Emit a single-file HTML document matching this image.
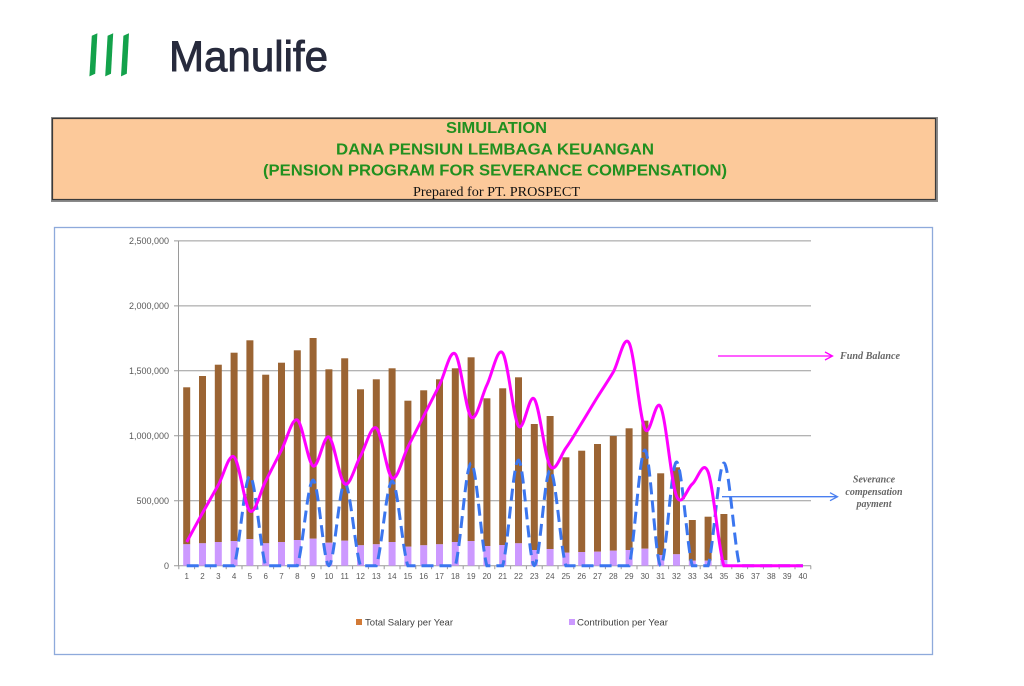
<!DOCTYPE html>
<html>
<head>
<meta charset="utf-8">
<style>
html,body{margin:0;padding:0;background:#fff;}
body{width:1024px;height:686px;overflow:hidden;}
svg{display:block;}
.yl{font-family:"Liberation Sans",Arial,sans-serif;font-size:9px;fill:#595959;text-anchor:end;}
.xl{font-family:"Liberation Sans",Arial,sans-serif;font-size:8px;fill:#595959;text-anchor:middle;}
.lg{font-family:"Liberation Sans",Arial,sans-serif;font-size:9px;fill:#404040;}
.an{font-family:"Liberation Serif","Times New Roman",serif;font-size:10px;font-style:italic;font-weight:bold;fill:#666;text-anchor:middle;}
.gt{font-family:"Liberation Sans",Arial,sans-serif;font-size:16px;font-weight:bold;fill:#21901f;}
</style>
</head>
<body>
<svg id="s" width="1024" height="686" viewBox="0 0 1024 686" xmlns="http://www.w3.org/2000/svg">
  <rect x="0" y="0" width="1024" height="686" fill="#fff"/>
  <!-- Logo -->
  <g fill="#13a24b">
    <polygon points="91.8,35.8 97.4,33.2 95.2,73.8 89.4,76.4"/>
    <polygon points="107.6,35.8 113.2,33.2 111,73.8 105.2,76.4"/>
    <polygon points="123.4,35.8 129,33.2 126.8,73.8 121,76.4"/>
  </g>
  <text x="169" y="71" font-family="Liberation Sans, Arial, sans-serif" font-size="43" fill="#272a3c" stroke="#272a3c" stroke-width="0.9" textLength="159" lengthAdjust="spacingAndGlyphs">Manulife</text>

  <!-- Header box -->
  <rect x="51" y="117" width="887" height="85" fill="#8a8a8a"/>
  <rect x="52.5" y="118.5" width="883" height="81" fill="#fcc99a" stroke="#3a3a3a" stroke-width="1.2"/>
  <text class="gt" x="446" y="133" textLength="101" lengthAdjust="spacingAndGlyphs">SIMULATION</text>
  <text class="gt" x="336" y="154.5" textLength="318" lengthAdjust="spacingAndGlyphs">DANA PENSIUN LEMBAGA KEUANGAN</text>
  <text class="gt" x="263" y="175.5" textLength="464" lengthAdjust="spacingAndGlyphs">(PENSION PROGRAM FOR SEVERANCE COMPENSATION)</text>
  <text x="413" y="196" font-family="Liberation Serif, Times New Roman, serif" font-size="13.5" fill="#111" textLength="167" lengthAdjust="spacingAndGlyphs">Prepared for PT. PROSPECT</text>

  <!-- Chart box -->
  <rect x="54.5" y="227.5" width="878" height="427" fill="#fff" stroke="#8eaadb" stroke-width="1.3"/>

  <!-- Gridlines -->
  <g stroke="#9a9a9a" stroke-width="1">
    <line x1="174" y1="240.9" x2="811" y2="240.9"/>
    <line x1="174" y1="305.9" x2="811" y2="305.9"/>
    <line x1="174" y1="370.8" x2="811" y2="370.8"/>
    <line x1="174" y1="435.8" x2="811" y2="435.8"/>
    <line x1="174" y1="500.7" x2="811" y2="500.7"/>
    <line x1="174" y1="565.7" x2="811" y2="565.7"/>
    <line x1="178.5" y1="240.9" x2="178.5" y2="565.7"/>
  </g>
  <g id="xt" stroke="#9a9a9a" stroke-width="1"></g>

  <!-- Y labels -->
  <text class="yl" x="169" y="244">2,500,000</text>
  <text class="yl" x="169" y="309">2,000,000</text>
  <text class="yl" x="169" y="374">1,500,000</text>
  <text class="yl" x="169" y="439">1,000,000</text>
  <text class="yl" x="169" y="504">500,000</text>
  <text class="yl" x="169" y="569">0</text>

  <g id="bars"></g>
  <path id="sev" d="" fill="none" stroke="#3b76ef" stroke-width="3" stroke-dasharray="12 6"/>
  <path id="fund" d="" fill="none" stroke="#ff00ff" stroke-width="3"/>

  <!-- X labels -->
  <g>
    <text class="xl" x="186.7" y="579">1</text>
    <text class="xl" x="202.5" y="579">2</text>
    <text class="xl" x="218.3" y="579">3</text>
    <text class="xl" x="234.1" y="579">4</text>
    <text class="xl" x="249.9" y="579">5</text>
    <text class="xl" x="265.7" y="579">6</text>
    <text class="xl" x="281.5" y="579">7</text>
    <text class="xl" x="297.3" y="579">8</text>
    <text class="xl" x="313.1" y="579">9</text>
    <text class="xl" x="328.9" y="579">10</text>
    <text class="xl" x="344.7" y="579">11</text>
    <text class="xl" x="360.5" y="579">12</text>
    <text class="xl" x="376.3" y="579">13</text>
    <text class="xl" x="392.1" y="579">14</text>
    <text class="xl" x="407.9" y="579">15</text>
    <text class="xl" x="423.7" y="579">16</text>
    <text class="xl" x="439.5" y="579">17</text>
    <text class="xl" x="455.3" y="579">18</text>
    <text class="xl" x="471.1" y="579">19</text>
    <text class="xl" x="486.9" y="579">20</text>
    <text class="xl" x="502.7" y="579">21</text>
    <text class="xl" x="518.5" y="579">22</text>
    <text class="xl" x="534.3" y="579">23</text>
    <text class="xl" x="550.1" y="579">24</text>
    <text class="xl" x="565.9" y="579">25</text>
    <text class="xl" x="581.7" y="579">26</text>
    <text class="xl" x="597.5" y="579">27</text>
    <text class="xl" x="613.3" y="579">28</text>
    <text class="xl" x="629.1" y="579">29</text>
    <text class="xl" x="644.9" y="579">30</text>
    <text class="xl" x="660.7" y="579">31</text>
    <text class="xl" x="676.5" y="579">32</text>
    <text class="xl" x="692.3" y="579">33</text>
    <text class="xl" x="708.1" y="579">34</text>
    <text class="xl" x="723.9" y="579">35</text>
    <text class="xl" x="739.7" y="579">36</text>
    <text class="xl" x="755.5" y="579">37</text>
    <text class="xl" x="771.3" y="579">38</text>
    <text class="xl" x="787.1" y="579">39</text>
    <text class="xl" x="802.9" y="579">40</text>
  </g>

  <!-- Legend -->
  <rect x="356" y="619" width="6" height="6" fill="#d27a36"/>
  <text class="lg" x="365" y="625.5" textLength="88" lengthAdjust="spacingAndGlyphs">Total Salary per Year</text>
  <rect x="569" y="619" width="6" height="6" fill="#cc99ff"/>
  <text class="lg" x="577" y="625.5" textLength="91" lengthAdjust="spacingAndGlyphs">Contribution per Year</text>

  <!-- Annotations -->
  <line x1="718" y1="356" x2="832" y2="356" stroke="#ff00ff" stroke-width="1.3"/>
  <polyline points="825,352 832.5,356 825,360" fill="none" stroke="#ff00ff" stroke-width="1.3"/>
  <text class="an" x="870" y="359" textLength="60" lengthAdjust="spacingAndGlyphs">Fund Balance</text>

  <line x1="722" y1="496.7" x2="837" y2="496.7" stroke="#4a7ff0" stroke-width="1.3"/>
  <polyline points="830,492.7 837.5,496.7 830,500.7" fill="none" stroke="#4a7ff0" stroke-width="1.3"/>
  <text class="an" x="874" y="482.5">Severance</text>
  <text class="an" x="874" y="495">compensation</text>
  <text class="an" x="874" y="507">payment</text>
</svg>
<script>
(function(){
  var NS="http://www.w3.org/2000/svg";
  function cx(i){return 186.7+(i-1)*15.8;}
  var base=565.7;
  var tops=[387.3,376,364.7,352.7,340.3,374.7,362.7,350.3,338,369.3,358.3,389.3,379.3,368.3,400.7,390.3,379.3,368.3,357.3,398.3,388.3,377.3,424,416,457.3,450.7,444,436,428.3,420.7,473.3,467.3,520,516.7,514];
  var ptop=[544.3,543.3,542,541,539,543.3,542,540,538.7,542.7,540.7,545.3,544.3,542,546.7,545.3,544.3,542,541,546,545,543.3,550,549,552.7,552,551.7,550.7,550,548.7,555,554.3,560.7,560.7,560];
  var g=document.getElementById("bars");
  for(var i=0;i<tops.length;i++){
    var x=cx(i+1)-3.5;
    var r=document.createElementNS(NS,"rect");
    r.setAttribute("x",x);r.setAttribute("y",tops[i]);r.setAttribute("width",7);r.setAttribute("height",ptop[i]-tops[i]);r.setAttribute("fill","#9b6433");
    g.appendChild(r);
    var p=document.createElementNS(NS,"rect");
    p.setAttribute("x",x);p.setAttribute("y",ptop[i]);p.setAttribute("width",7);p.setAttribute("height",base-ptop[i]);p.setAttribute("fill","#cc99ff");
    g.appendChild(p);
  }
  var xt=document.getElementById("xt");
  for(var k=0;k<=40;k++){
    var X=178.8+k*15.8;
    var l=document.createElementNS(NS,"line");
    l.setAttribute("x1",X);l.setAttribute("x2",X);l.setAttribute("y1",base);l.setAttribute("y2",base+3.5);
    xt.appendChild(l);
  }
  function smooth(ys){
    var pts=ys.map(function(y,i){return [cx(i+1),y];});
    var d="M"+pts[0][0].toFixed(2)+","+pts[0][1].toFixed(2);
    for(var i=0;i<pts.length-1;i++){
      var p0=pts[i-1]||pts[i],p1=pts[i],p2=pts[i+1],p3=pts[i+2]||pts[i+1];
      var c1=[p1[0]+(p2[0]-p0[0])/6,p1[1]+(p2[1]-p0[1])/6];
      var c2=[p2[0]-(p3[0]-p1[0])/6,p2[1]-(p3[1]-p1[1])/6];
      if(c1[1]>base)c1[1]=base;
      if(c2[1]>base)c2[1]=base;
      d+=" C"+c1[0].toFixed(2)+","+c1[1].toFixed(2)+" "+c2[0].toFixed(2)+","+c2[1].toFixed(2)+" "+p2[0].toFixed(2)+","+p2[1].toFixed(2);
    }
    return d;
  }
  var fund=[542,513,485,457,511,481,450,420,466,437,484,456,428,478,447,416,385,354,417,385,353,426,399,466,448,423,397,372,343,429,407,496,484,472,base,base,base,base,base,base];
  var sev=[];for(var i=1;i<=40;i++)sev.push(base);
  var peaks={5:476,9:480,11:483,14:481,19:463,22:460,24:470,30:450,32:462,35:463};
  for(var k in peaks){sev[k-1]=peaks[k];}
  document.getElementById("fund").setAttribute("d",smooth(fund));
  document.getElementById("sev").setAttribute("d",smooth(sev));
})();
</script>
</body>
</html>
